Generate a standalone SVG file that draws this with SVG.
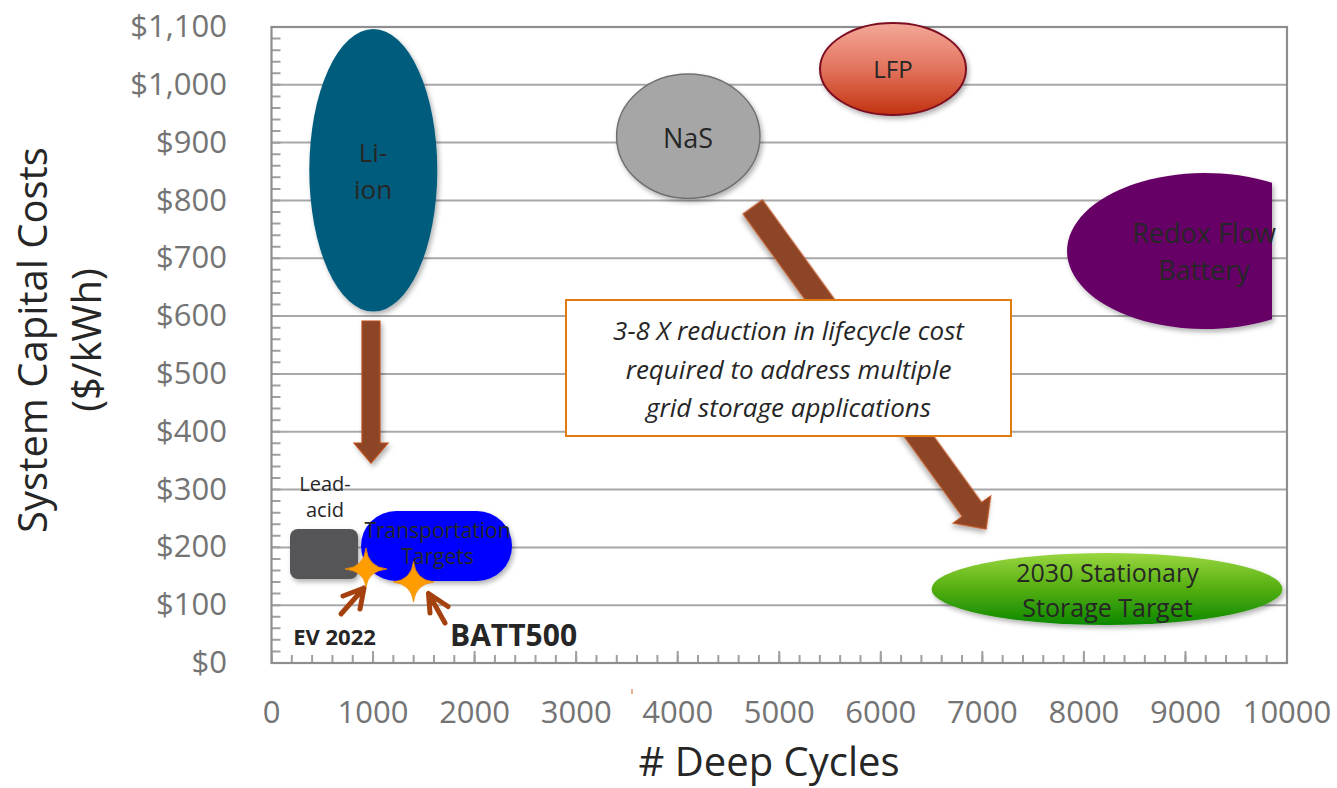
<svg xmlns="http://www.w3.org/2000/svg" width="1337" height="788" viewBox="0 0 1337 788">
<style>
.ax{font-family:"Open Sans","Liberation Sans",sans-serif;font-size:31px;fill:#747474}
.title{font-family:"Open Sans","Liberation Sans",sans-serif;font-size:40px;fill:#262626}
.lbl{font-family:"Open Sans","Liberation Sans",sans-serif;fill:#262626;text-anchor:middle}
.grid{stroke:#a8a8a8;stroke-width:2}
.brown{fill:#8c4527;stroke:#bb4f1d;stroke-width:1.2}
.small{fill:none;stroke:#a4410f;stroke-width:5;stroke-linejoin:round;stroke-linecap:round}
.star{fill:#ff9d00;stroke:#f08a00;stroke-width:0.8}
</style>
<defs>
<filter id="sh" x="-20%" y="-20%" width="145%" height="150%">
<feDropShadow dx="2" dy="3" stdDeviation="2.5" flood-color="#000" flood-opacity="0.3"/>
</filter>
<linearGradient id="gLFP" x1="0" y1="0" x2="0" y2="1">
<stop offset="0" stop-color="#f4a898"/><stop offset="0.5" stop-color="#e2735d"/><stop offset="1" stop-color="#c2320f"/>
</linearGradient>
<linearGradient id="gGreen" x1="0" y1="0" x2="0" y2="1">
<stop offset="0" stop-color="#9ad640"/><stop offset="0.5" stop-color="#53ae10"/><stop offset="1" stop-color="#0c8800"/>
</linearGradient>
</defs>

<g id="plot-area">
<rect x="0" y="0" width="1337" height="788" fill="#ffffff"/>
<g id="gridlines">
<line class="grid" x1="271.5" y1="84.8" x2="1287" y2="84.8"/>
<line class="grid" x1="271.5" y1="142.6" x2="1287" y2="142.6"/>
<line class="grid" x1="271.5" y1="200.5" x2="1287" y2="200.5"/>
<line class="grid" x1="271.5" y1="258.3" x2="1287" y2="258.3"/>
<line class="grid" x1="271.5" y1="316.1" x2="1287" y2="316.1"/>
<line class="grid" x1="271.5" y1="373.9" x2="1287" y2="373.9"/>
<line class="grid" x1="271.5" y1="431.7" x2="1287" y2="431.7"/>
<line class="grid" x1="271.5" y1="489.6" x2="1287" y2="489.6"/>
<line class="grid" x1="271.5" y1="547.4" x2="1287" y2="547.4"/>
<line class="grid" x1="271.5" y1="605.2" x2="1287" y2="605.2"/>
</g>
<g id="ticks" stroke="#a0a0a0">
<line x1="276" y1="27" x2="276" y2="663" stroke-width="9" stroke-dasharray="2 9.5636" stroke-dashoffset="1"/>
<line x1="271.5" y1="659" x2="1288" y2="659" stroke-width="8" stroke-dasharray="2 18.31" stroke-dashoffset="1"/>
<line x1="271.5" y1="657" x2="1288" y2="657" stroke-width="12" stroke-dasharray="2 99.55" stroke-dashoffset="1"/>
</g>
<rect x="271.5" y="27" width="1015.5" height="636" fill="none" stroke="#8e8e8e" stroke-width="2.2"/>
<line x1="632" y1="689" x2="632" y2="694" stroke="#e0602a" stroke-width="1"/>
</g>

<g id="y-axis">
<text class="ax" text-anchor="end" x="227" y="37">$1,100</text>
<text class="ax" text-anchor="end" x="227" y="94.8">$1,000</text>
<text class="ax" text-anchor="end" x="227" y="152.6">$900</text>
<text class="ax" text-anchor="end" x="227" y="210.5">$800</text>
<text class="ax" text-anchor="end" x="227" y="268.3">$700</text>
<text class="ax" text-anchor="end" x="227" y="326.1">$600</text>
<text class="ax" text-anchor="end" x="227" y="383.9">$500</text>
<text class="ax" text-anchor="end" x="227" y="441.7">$400</text>
<text class="ax" text-anchor="end" x="227" y="499.6">$300</text>
<text class="ax" text-anchor="end" x="227" y="557.4">$200</text>
<text class="ax" text-anchor="end" x="227" y="615.2">$100</text>
<text class="ax" text-anchor="end" x="227" y="673">$0</text>
<text class="title" text-anchor="middle" transform="translate(47,340) rotate(-90)">System Capital Costs</text>
<text class="title" text-anchor="middle" transform="translate(101,340) rotate(-90)">($/kWh)</text>
</g>

<g id="x-axis">
<text class="ax" text-anchor="middle" x="271.5" y="723">0</text>
<text class="ax" text-anchor="middle" x="373" y="723">1000</text>
<text class="ax" text-anchor="middle" x="474.6" y="723">2000</text>
<text class="ax" text-anchor="middle" x="576.2" y="723">3000</text>
<text class="ax" text-anchor="middle" x="677.7" y="723">4000</text>
<text class="ax" text-anchor="middle" x="779.3" y="723">5000</text>
<text class="ax" text-anchor="middle" x="880.8" y="723">6000</text>
<text class="ax" text-anchor="middle" x="982.4" y="723">7000</text>
<text class="ax" text-anchor="middle" x="1083.9" y="723">8000</text>
<text class="ax" text-anchor="middle" x="1185.5" y="723">9000</text>
<text class="ax" text-anchor="middle" x="1287" y="723">10000</text>
<text class="title" text-anchor="middle" x="769" y="776">#&#160;Deep Cycles</text>
</g>

<g id="connectors">
<polygon id="arrow-liion" class="brown" filter="url(#sh)" points="362,321 380,321 380,443 388,443 371,463 354,443 362,443"/>
<polygon id="arrow-grid" class="brown" filter="url(#sh)" transform="translate(752.8,207) rotate(54.08)" points="0,-12 373.6,-12 373.6,-23 397.6,0 373.6,23 373.6,12 0,12"/>
<path id="arrow-ev" class="small" d="M341,614 L364,588 M343,596 L364,588 L360,609"/>
<path id="arrow-batt" class="small" d="M445,623 L428.5,593.5 M448,606.5 L428.5,593.5 L430,613"/>
</g>

<g id="liion">
<ellipse cx="373.3" cy="170.3" rx="64" ry="141.3" fill="#055c7d" filter="url(#sh)"/>
<text class="lbl" font-size="26" x="373" y="162">Li-</text>
<text class="lbl" font-size="26" x="373" y="199">ion</text>
</g>

<g id="nas">
<ellipse cx="688.3" cy="136.2" rx="71.7" ry="62.2" fill="#a6a6a6" stroke="#707070" stroke-width="1.5" filter="url(#sh)"/>
<text class="lbl" font-size="27" x="688" y="148">NaS</text>
</g>

<g id="lfp">
<ellipse cx="893" cy="69" rx="73" ry="46" fill="url(#gLFP)" stroke="#7b0d20" stroke-width="2" filter="url(#sh)"/>
<text class="lbl" font-size="24" x="893" y="77.5">LFP</text>
</g>

<g id="redox">
<path d="M1272,182.8 A138,78 0 1 0 1272,319.2 Z" fill="#660066" filter="url(#sh)"/>
<text class="lbl" font-size="27" x="1204" y="243">Redox Flow</text>
<text class="lbl" font-size="27" x="1204" y="280">Battery</text>
</g>

<g id="stationary-target">
<ellipse cx="1107" cy="589" rx="175.5" ry="36" fill="url(#gGreen)" filter="url(#sh)"/>
<text class="lbl" font-size="25" x="1107.5" y="582">2030 Stationary</text>
<text class="lbl" font-size="25" x="1107.5" y="617">Storage Target</text>
</g>

<g id="lead-acid">
<rect x="290" y="529" width="68" height="50" rx="8" fill="#545458" filter="url(#sh)"/>
<text class="lbl" font-size="20" x="325" y="491">Lead-</text>
<text class="lbl" font-size="20" x="325" y="517">acid</text>
</g>

<g id="transportation">
<rect x="361" y="511" width="151" height="70" rx="35" fill="#0000ff" filter="url(#sh)"/>
<text class="lbl" font-size="21" x="437.5" y="537.5">Transportation</text>
<text class="lbl" font-size="21" x="437.5" y="563.5">Targets</text>
</g>

<g id="ev2022">
<path class="star" d="M366,548 Q368,567 387,569 Q368,571 366,587 Q364,571 345,569 Q364,567 366,548 Z"/>
<text class="lbl" font-size="22" font-weight="bold" x="334.5" y="644.5">EV 2022</text>
</g>

<g id="batt500">
<path class="star" d="M413.5,561.5 Q415.5,580 434,582 Q415.5,584 413.5,602 Q411.5,584 393,582 Q411.5,580 413.5,561.5 Z"/>
<text class="lbl" font-size="30" font-weight="bold" x="513.5" y="646">BATT500</text>
</g>

<g id="note">
<rect x="566" y="300" width="445" height="136" fill="#ffffff" stroke="#e07b10" stroke-width="2"/>
<text class="lbl" font-size="26" font-style="italic" x="788.5" y="340">3-8 X reduction in lifecycle cost</text>
<text class="lbl" font-size="26" font-style="italic" x="788.5" y="378.5">required to address multiple</text>
<text class="lbl" font-size="26" font-style="italic" x="788.5" y="417">grid storage applications</text>
</g>
</svg>
